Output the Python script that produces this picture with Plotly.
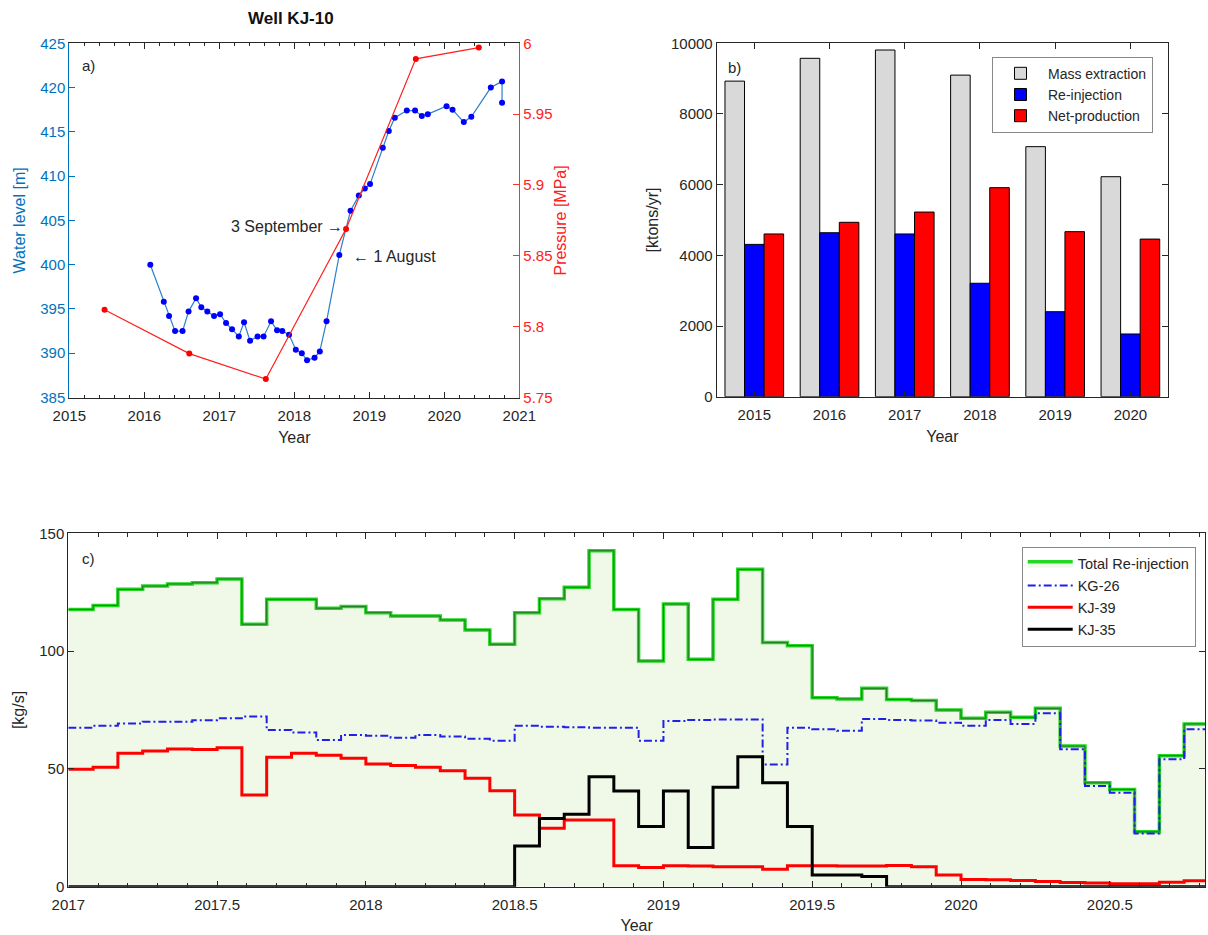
import plotly.graph_objects as go

# ---------------- Panel a data ----------------
wl_year = [2016.08, 2016.26, 2016.33, 2016.41, 2016.51, 2016.59, 2016.69, 2016.76, 2016.84, 2016.93,
           2017.01, 2017.09, 2017.17, 2017.26, 2017.33, 2017.41, 2017.51, 2017.59, 2017.69, 2017.77,
           2017.84, 2017.93, 2018.02, 2018.10, 2018.17, 2018.27, 2018.34, 2018.43, 2018.60, 2018.75,
           2018.86, 2018.94, 2019.01, 2019.18, 2019.26, 2019.34, 2019.50, 2019.61, 2019.70, 2019.78,
           2020.03, 2020.11, 2020.26, 2020.36, 2020.62, 2020.77, 2020.77]
water_level = [400.0, 395.8, 394.2, 392.5, 392.5, 394.7, 396.2, 395.2, 394.7, 394.2,
               394.4, 393.4, 392.7, 391.9, 393.5, 391.4, 391.9, 391.9, 393.6, 392.6,
               392.5, 392.1, 390.4, 390.0, 389.2, 389.5, 390.2, 393.6, 401.1, 406.1,
               407.8, 408.6, 409.1, 413.2, 415.1, 416.6, 417.4, 417.4, 416.8, 417.0,
               417.9, 417.5, 416.1, 416.7, 420.0, 420.7, 418.3]
p_year = [2015.47, 2016.60, 2017.62, 2018.69, 2019.62, 2020.46]
pressure = [5.812, 5.781, 5.763, 5.869, 5.989, 5.997]

# ---------------- Panel b data ----------------
bar_years = [2015, 2016, 2017, 2018, 2019, 2020]
mass_extraction = [8930, 9575, 9810, 9100, 7075, 6225]
re_injection = [4310, 4640, 4605, 3210, 2405, 1775]
net_production = [4605, 4935, 5225, 5915, 4670, 4460]

# ---------------- Panel c data (monthly, from Jan 2017) ----------------
c_start = 2017.0
total_reinj = [117.7, 119.4, 126.2, 127.6, 128.5, 129.0, 130.6, 111.4, 122.0, 122.0,
               118.2, 118.9, 116.3, 114.9, 114.9, 113.2, 109.0, 102.9, 116.3, 122.2,
               127.1, 142.6, 117.7, 95.8, 120.0, 96.5, 122.0, 134.7, 103.6, 102.3,
               80.2, 79.7, 84.2, 79.5, 79.0, 75.0, 71.5, 74.0, 71.9, 75.7,
               59.7, 44.1, 41.3, 23.3, 55.6, 69.1]
kg26 = [67.5, 68.3, 69.3, 70.0, 70.0, 70.7, 71.5, 72.2, 66.5, 65.5,
        62.3, 64.4, 64.1, 63.2, 64.4, 63.7, 62.8, 62.0, 68.3, 67.9,
        67.7, 67.5, 67.5, 62.0, 70.3, 70.8, 71.0, 71.0, 51.9, 67.5,
        66.8, 66.2, 71.2, 70.8, 70.5, 69.6, 68.3, 70.8, 69.1, 73.6,
        58.3, 42.7, 39.9, 22.6, 54.1, 66.8]
kj39 = [49.8, 50.7, 56.6, 57.6, 58.4, 58.2, 59.0, 38.9, 54.9, 56.6,
        55.8, 54.5, 52.1, 51.4, 50.7, 49.2, 46.0, 40.7, 30.4, 24.8,
        28.3, 28.3, 8.9, 8.2, 8.9, 8.8, 8.5, 8.5, 7.4, 8.9,
        8.9, 8.8, 8.8, 9.0, 8.5, 5.0, 3.1, 2.9, 2.6, 2.2,
        1.8, 1.6, 1.3, 1.3, 1.9, 2.5]
kj35 = [0, 0, 0, 0, 0, 0, 0, 0, 0, 0,
        0, 0, 0, 0, 0, 0, 0, 0, 17.3, 29.0,
        30.7, 46.7, 40.6, 25.5, 40.6, 16.6, 42.2, 55.2, 44.1, 25.5,
        5.0, 5.0, 4.3, 0, 0, 0, 0, 0, 0, 0,
        0, 0, 0, 0, 0, 0]

FONT = "Liberation Sans, Arial, sans-serif"
TXT = "#262626"
MBLUE = "#0072BD"

# step x positions: month starts plus final edge
n = len(total_reinj)
cx = [c_start + i / 12 for i in range(n + 1)]
def ext(v):
    return list(v) + [v[-1]]

fig = go.Figure()

# ---- Panel a ----
fig.add_trace(go.Scatter(x=wl_year, y=water_level, mode="lines+markers",
                         line=dict(color="#2a7fd0", width=1.2),
                         marker=dict(color="#0000FF", size=6),
                         xaxis="x", yaxis="y", showlegend=False))
fig.add_trace(go.Scatter(x=p_year, y=pressure, mode="lines+markers",
                         line=dict(color="#FF2020", width=1.2),
                         marker=dict(color="#FF0000", size=6),
                         xaxis="x", yaxis="y2", showlegend=False))

# ---- Panel b ----
fig.add_trace(go.Bar(x=bar_years, y=mass_extraction, name="Mass extraction",
                     marker=dict(color="#D9D9D9", line=dict(color="black", width=1)),
                     xaxis="x3", yaxis="y3", legend="legend"))
fig.add_trace(go.Bar(x=bar_years, y=re_injection, name="Re-injection",
                     marker=dict(color="#0000FF", line=dict(color="black", width=1)),
                     xaxis="x3", yaxis="y3", legend="legend"))
fig.add_trace(go.Bar(x=bar_years, y=net_production, name="Net-production",
                     marker=dict(color="#FF0000", line=dict(color="black", width=1)),
                     xaxis="x3", yaxis="y3", legend="legend"))

# ---- Panel c ----
fig.add_trace(go.Scatter(x=cx, y=ext(total_reinj), mode="lines", line_shape="hv",
                         fill="tozeroy", fillcolor="rgb(240,249,232)",
                         line=dict(color="#22D822", width=3.5),
                         name="Total Re-injection", xaxis="x4", yaxis="y4", legend="legend2"))
fig.add_trace(go.Scatter(x=cx, y=ext(total_reinj), mode="lines", line_shape="hv",
                         line=dict(color="#1d6e1d", width=0.9),
                         showlegend=False, xaxis="x4", yaxis="y4"))
fig.add_trace(go.Scatter(x=cx, y=ext(kg26), mode="lines", line_shape="hv",
                         line=dict(color="#2020E6", width=2, dash="8px,3px,2px,3px"),
                         name="KG-26", xaxis="x4", yaxis="y4", legend="legend2"))
fig.add_trace(go.Scatter(x=cx, y=ext(kj39), mode="lines", line_shape="hv",
                         line=dict(color="#FF0000", width=3),
                         name="KJ-39", xaxis="x4", yaxis="y4", legend="legend2"))
fig.add_trace(go.Scatter(x=cx, y=ext(kj35), mode="lines", line_shape="hv",
                         line=dict(color="#000000", width=3),
                         name="KJ-35", xaxis="x4", yaxis="y4", legend="legend2"))

W, H = 1208, 935
def px_x(p):
    return p / W
def px_y(p):
    return 1 - p / H

tickfont = dict(family=FONT, size=15, color=TXT)
common_x = dict(showline=True, linecolor=TXT, linewidth=1, mirror="ticks",
                ticks="inside", ticklen=6, tickcolor=TXT, tickfont=tickfont,
                ticklabelstandoff=4, separatethousands=False,
                showgrid=False, zeroline=False, automargin=False)

fig.update_layout(
    width=W, height=H, margin=dict(l=0, r=0, t=0, b=0),
    paper_bgcolor="white", plot_bgcolor="white",
    font=dict(family=FONT, color=TXT, size=15),
    barmode="group", bargap=0.22, bargroupgap=0,
    xaxis=dict(domain=[px_x(69.3), px_x(519.3)], range=[2015, 2021], anchor="y",
               tickvals=[2015, 2016, 2017, 2018, 2019, 2020, 2021], tickformat="d",
               minor=dict(dtick=0.2, ticks="inside", ticklen=3, tickcolor=TXT),
               title=dict(text="Year", font=dict(size=16, color=TXT), standoff=9),
               **common_x),
    yaxis=dict(domain=[px_y(397.5), px_y(43.3)], range=[385, 425], dtick=5, anchor="x",
               showline=True, linecolor=MBLUE, linewidth=1, ticks="inside", ticklen=6,
               tickcolor=MBLUE, tickfont=dict(family=FONT, size=15, color=MBLUE),
               showgrid=False, zeroline=False, automargin=False,
               title=dict(text="Water level [m]", font=dict(size=16, color=MBLUE), standoff=10)),
    yaxis2=dict(overlaying="y", side="right", anchor="x", range=[5.75, 6], dtick=0.05,
                showline=True, linecolor="#FF3030", linewidth=1, ticks="inside", ticklen=6,
                tickcolor="#FF3030", tickfont=dict(family=FONT, size=15, color="#FF2020"),
                showgrid=False, zeroline=False, automargin=False,
                title=dict(text="Pressure [MPa]", font=dict(size=16, color="#FF2020"), standoff=2)),
    xaxis3=dict(domain=[px_x(716.7), px_x(1168)], range=[2014.5, 2020.5], anchor="y3",
                tickvals=bar_years, tickformat="d",
                title=dict(text="Year", font=dict(size=16, color=TXT), standoff=9),
                **common_x),
    yaxis3=dict(domain=[px_y(396.7), px_y(43.3)], range=[0, 10000], dtick=2000, anchor="x3",
                tickformat="d", showline=True, linecolor=TXT, linewidth=1, mirror="ticks",
                ticks="inside", ticklen=6, tickcolor=TXT, tickfont=tickfont,
                showgrid=False, zeroline=False, automargin=False,
                title=dict(text="[ktons/yr]", font=dict(size=16, color=TXT), standoff=8)),
    xaxis4=dict(domain=[px_x(68.3), px_x(1205)], range=[2017, 2020.82], anchor="y4",
                dtick=0.5, tick0=2017, tickformat=".1~f",
                minor=dict(dtick=0.1, ticks="inside", ticklen=4, tickcolor=TXT),
                title=dict(text="Year", font=dict(size=16, color=TXT), standoff=8),
                **common_x),
    yaxis4=dict(domain=[px_y(886.7), px_y(533.3)], range=[0, 150], dtick=50, anchor="x4",
                showline=True, linecolor=TXT, linewidth=1, mirror="ticks",
                ticks="inside", ticklen=6, tickcolor=TXT, tickfont=tickfont,
                showgrid=False, zeroline=False, automargin=False,
                title=dict(text="[kg/s]", font=dict(size=16, color=TXT), standoff=10)),
    legend=dict(x=px_x(992), y=px_y(56.7), xanchor="left", yanchor="top",
                bgcolor="white", bordercolor="#888888", borderwidth=1,
                font=dict(family=FONT, size=14, color=TXT), tracegroupgap=0,
                itemwidth=45),
    legend2=dict(x=px_x(1021.7), y=px_y(546.7), xanchor="left", yanchor="top",
                 bgcolor="white", bordercolor="#888888", borderwidth=1,
                 font=dict(family=FONT, size=14.5, color=TXT), tracegroupgap=0,
                 itemwidth=45),
)

fig.add_annotation(text="<b>Well KJ-10</b>", x=px_x(291), y=px_y(19), xref="paper", yref="paper",
                   xanchor="center", yanchor="middle",
                   showarrow=False, font=dict(family=FONT, size=17, color="#111111"))
fig.add_annotation(text="a)", x=px_x(80), y=px_y(66), xref="paper", yref="paper",
                   xanchor="left", yanchor="middle",
                   showarrow=False, font=dict(family=FONT, size=15, color=TXT))
fig.add_annotation(text="b)", x=px_x(726), y=px_y(67), xref="paper", yref="paper",
                   xanchor="left", yanchor="middle",
                   showarrow=False, font=dict(family=FONT, size=15, color=TXT))
fig.add_annotation(text="c)", x=px_x(80), y=px_y(558), xref="paper", yref="paper",
                   xanchor="left", yanchor="middle",
                   showarrow=False, font=dict(family=FONT, size=15, color=TXT))
fig.add_annotation(text="3 September \u2192", x=2018.68, y=404.3, xref="x", yref="y",
                   xanchor="right", yanchor="middle",
                   showarrow=False, font=dict(family=FONT, size=16, color=TXT))
fig.add_annotation(text="\u2190 1 August", x=2018.76, y=400.9, xref="x", yref="y",
                   xanchor="left", yanchor="middle",
                   showarrow=False, font=dict(family=FONT, size=16, color=TXT))

fig.write_html("out.html")
